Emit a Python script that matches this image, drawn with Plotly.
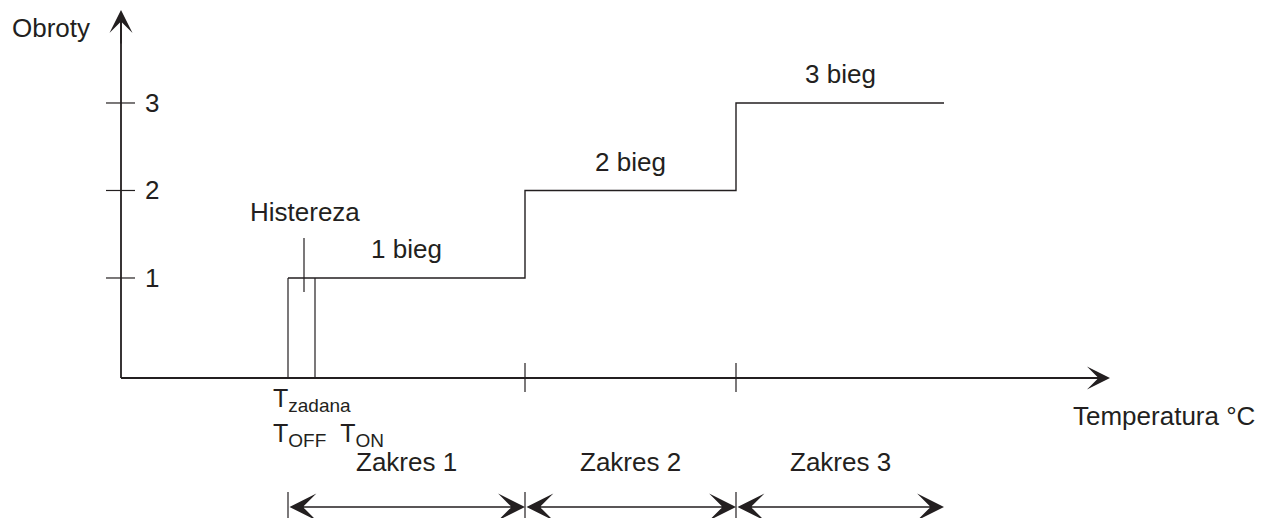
import plotly.graph_objects as go

# ---- data (chart units: x = arbitrary temperature units, y = fan speed level) ----
levels = [1, 2, 3]
level_tick_labels = ["1", "2", "3"]
gear_labels = ["1 bieg", "2 bieg", "3 bieg"]
zone_labels = ["Zakres 1", "Zakres 2", "Zakres 3"]
zone_edges = [167, 404, 615, 823]      # T_OFF, end of zone 1, end of zone 2, end of zone 3
t_off = 167
t_on = 194
hyst_marker_x = 183
baseline = -0.143
x_axis_end = 989
y_axis_end = 4.063

INK = "#231f20"
FONT = "Liberation Sans, Arial, sans-serif"
FS = 26

fig = go.Figure()

def seg(xs, ys, w=1.3):
    fig.add_trace(go.Scatter(x=xs, y=ys, mode="lines", line=dict(color=INK, width=w),
                             hoverinfo="skip", showlegend=False))

# axes lines
seg([0, x_axis_end - 8], [baseline, baseline], 1.8)
seg([0, 0], [baseline, y_axis_end - 0.1], 1.8)

# step characteristic
sx = [zone_edges[0]]
sy = [levels[0]]
for i, lv in enumerate(levels):
    sx += [zone_edges[i + 1]]
    sy += [lv]
    if i + 1 < len(levels):
        sx += [zone_edges[i + 1]]
        sy += [levels[i + 1]]
seg(sx, sy, 1.4)

# hysteresis box
seg([t_off, t_off], [baseline, levels[0]], 1.2)
seg([t_on, t_on], [baseline, levels[0]], 1.2)
seg([hyst_marker_x, hyst_marker_x], [0.84, 1.457], 1.2)

# y ticks
for lv in levels:
    seg([-15, 14], [lv, lv], 1.2)
# x ticks
for xe in zone_edges[1:3]:
    seg([xe, xe], [0.029, -0.303], 1.2)
# dimension bars
for xe in zone_edges[:3]:
    seg([xe, xe], [-1.446, -1.8], 1.2)

ann = []
# axis arrows
ann.append(dict(x=x_axis_end, y=baseline, ax=x_axis_end - 30, ay=baseline, xref="x", yref="y",
                axref="x", ayref="y", text="", showarrow=True, arrowhead=3, arrowsize=2.4,
                arrowwidth=1.6, arrowcolor=INK, standoff=0))
ann.append(dict(x=0, y=y_axis_end, ax=0, ay=y_axis_end - 0.4, xref="x", yref="y",
                axref="x", ayref="y", text="", showarrow=True, arrowhead=3, arrowsize=2.4,
                arrowwidth=1.6, arrowcolor=INK, standoff=0))
# dimension arrows
for i in range(3):
    ann.append(dict(x=zone_edges[i + 1], y=-1.617, ax=zone_edges[i], ay=-1.617, xref="x", yref="y",
                    axref="x", ayref="y", text="", showarrow=True, arrowhead=3, arrowside="end+start",
                    arrowsize=3.2, arrowwidth=1.4, arrowcolor=INK, standoff=0, startstandoff=0))

def txt(x, y, s, xa="center", ya="middle", size=FS):
    ann.append(dict(x=x, y=y, xref="x", yref="y", text=s, showarrow=False, xanchor=xa, yanchor=ya,
                    font=dict(family=FONT, size=size, color=INK)))

txt(-70, 3.857, "Obroty")
for lv, lab in zip(levels, level_tick_labels):
    txt(31, lv, lab)
for i, lab in enumerate(gear_labels):
    txt((zone_edges[i] + zone_edges[i + 1]) / 2, levels[i] + 0.331, lab)
for i, lab in enumerate(zone_labels):
    txt((zone_edges[i] + zone_edges[i + 1]) / 2, -1.103, lab)
txt(184, 1.754, "Histereza")
txt(1043, -0.577, "Temperatura °C")
SUB = "<sub><span style='font-size:19px'>{}</span></sub>"
txt(150, -0.19, "T" + SUB.format("zadana"), xa="left", ya="top", size=25)
txt(150, -0.585, "T" + SUB.format("OFF") + "&nbsp;&nbsp;T" + SUB.format("ON"), xa="left", ya="top", size=25)

fig.update_layout(
    width=1266, height=518, margin=dict(l=0, r=0, t=0, b=0),
    paper_bgcolor="white", plot_bgcolor="white",
    xaxis=dict(range=[-121, 1145], visible=False, fixedrange=True),
    yaxis=dict(range=[-1.743, 4.177], visible=False, fixedrange=True),
    annotations=ann, showlegend=False,
)
fig.write_html("out.html", config={"displayModeBar": False},
               post_script="document.body.style.margin='0';document.body.style.overflow='hidden';")
